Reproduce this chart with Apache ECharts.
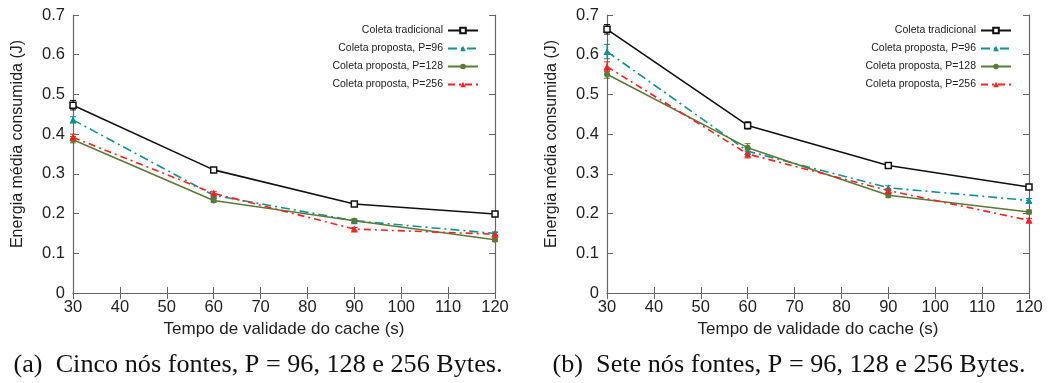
<!DOCTYPE html>
<html><head><meta charset="utf-8">
<script src="https://cdn.jsdelivr.net/npm/echarts@6/dist/echarts.min.js"></script>
<style>html,body{margin:0;padding:0;background:#fff}#c{width:1051px;height:383px}</style>
</head><body><div id="c"></div>
<script>
const cacheTimes = [30, 60, 90, 120];
const xTicks = [30, 40, 50, 60, 70, 80, 90, 100, 110, 120];
const seriesNames = ['Coleta tradicional', 'Coleta proposta, P=96', 'Coleta proposta, P=128', 'Coleta proposta, P=256'];
// (a) five source nodes
const a_trad = [0.473, 0.310, 0.224, 0.199];
const a_p96  = [0.436, 0.246, 0.182, 0.150];
const a_p128 = [0.386, 0.233, 0.182, 0.134];
const a_p256 = [0.392, 0.251, 0.161, 0.148];
const a_err_trad = [0.012, 0.005, 0.004, 0.004];
const a_err_p96  = [0.008, 0.005, 0.004, 0.004];
const a_err_p128 = [0.008, 0.005, 0.004, 0.004];
const a_err_p256 = [0.008, 0.005, 0.004, 0.004];
// (b) seven source nodes
const b_trad = [0.664, 0.422, 0.321, 0.267];
const b_p96  = [0.608, 0.357, 0.265, 0.233];
const b_p128 = [0.551, 0.366, 0.246, 0.204];
const b_p256 = [0.570, 0.350, 0.258, 0.183];
const b_err_trad = [0.012, 0.009, 0.005, 0.005];
const b_err_p96  = [0.018, 0.008, 0.005, 0.005];
const b_err_p128 = [0.010, 0.010, 0.006, 0.005];
const b_err_p256 = [0.012, 0.010, 0.005, 0.005];
const captions = ['(a)  Cinco nós fontes, P = 96, 128 e 256 Bytes.', '(b)  Sete nós fontes, P = 96, 128 e 256 Bytes.'];

const colors = ['#111111', '#129191', '#5b7a38', '#ff1f1f'];
const symbols = ['rect', 'triangle', 'circle', 'triangle'];
const symbolSizes = [6, 7, 6, 7];
const lineTypes = ['solid', [9, 4, 2, 4], 'solid', [7, 4, 2, 4]];
const font = 'Liberation Sans, Arial, sans-serif';

const grids = [
  {left: 73, top: 15, width: 422, height: 278},
  {left: 607, top: 15, width: 422, height: 278}
];
const xAxes = [], yAxes = [];
grids.forEach((g, i) => {
  xAxes.push({type: 'value', gridIndex: i, min: 30, max: 120, interval: 10,
    name: 'Tempo de validade do cache (s)', nameLocation: 'middle', nameGap: 28,
    nameTextStyle: {fontFamily: font, fontSize: 17, color: '#222'},
    axisLine: {lineStyle: {color: '#666', width: 1.2}},
    axisTick: {inside: true, length: 6, lineStyle: {color: '#666'}},
    axisLabel: {fontFamily: font, fontSize: 16.5, color: '#222', margin: 6},
    splitLine: {show: false}});
  xAxes.push({type: 'value', gridIndex: i, position: 'top', min: 30, max: 120, interval: 10,
    axisLine: {lineStyle: {color: '#666', width: 1.2}},
    axisTick: {inside: true, length: 6, lineStyle: {color: '#666'}},
    axisLabel: {show: false}, splitLine: {show: false}});
  yAxes.push({type: 'value', gridIndex: i, min: 0, max: 0.7, interval: 0.1,
    name: 'Energia média consumida (J)', nameLocation: 'middle', nameGap: 47,
    nameTextStyle: {fontFamily: font, fontSize: 16, color: '#222', padding: [0, 0, 0, 20]},
    axisLine: {show: true, lineStyle: {color: '#666', width: 1.2}},
    axisTick: {show: true, inside: true, length: 6, lineStyle: {color: '#666'}},
    axisLabel: {fontFamily: font, fontSize: 16.5, color: '#222', margin: 8},
    splitLine: {show: false}});
  yAxes.push({type: 'value', gridIndex: i, position: 'right', min: 0, max: 0.7, interval: 0.1,
    axisLine: {show: true, lineStyle: {color: '#666', width: 1.2}},
    axisTick: {show: true, inside: true, length: 6, lineStyle: {color: '#666'}},
    axisLabel: {show: false}, splitLine: {show: false}});
});

const panelData = [[a_trad, a_p96, a_p128, a_p256], [b_trad, b_p96, b_p128, b_p256]];
const panelErr = [[a_err_trad, a_err_p96, a_err_p128, a_err_p256], [b_err_trad, b_err_p96, b_err_p128, b_err_p256]];
const series = [];
panelData.forEach((arrs, p) => {
  arrs.forEach((vals, k) => {
    const errs = panelErr[p][k];
    series.push({type: 'custom', xAxisIndex: p * 2, yAxisIndex: p * 2, silent: true, z: 3,
      data: cacheTimes.map((x, j) => [x, vals[j] - errs[j], vals[j] + errs[j]]),
      renderItem: (params, api) => {
        const lo = api.coord([api.value(0), api.value(1)]);
        const hi = api.coord([api.value(0), api.value(2)]);
        const w = 3;
        const st = {stroke: colors[k], lineWidth: 1};
        return {type: 'group', children: [
          {type: 'line', shape: {x1: lo[0], y1: lo[1], x2: hi[0], y2: hi[1]}, style: st},
          {type: 'line', shape: {x1: lo[0] - w, y1: lo[1], x2: lo[0] + w, y2: lo[1]}, style: st},
          {type: 'line', shape: {x1: hi[0] - w, y1: hi[1], x2: hi[0] + w, y2: hi[1]}, style: st}
        ]};
      }});
    series.push({type: 'line', name: seriesNames[k], xAxisIndex: p * 2, yAxisIndex: p * 2,
      data: cacheTimes.map((x, j) => [x, vals[j]]),
      symbol: symbols[k], symbolSize: symbolSizes[k],
      itemStyle: k === 0 ? {color: '#fff', borderColor: colors[k], borderWidth: 1.5} : {color: colors[k]},
      lineStyle: {color: colors[k], width: 1.6, type: lineTypes[k]},
      color: colors[k], z: 4, animation: false});
  });
});

const legendBase = {orient: 'vertical', top: 20, align: 'right', itemWidth: 30, itemHeight: 7, itemGap: 7,
  textStyle: {fontFamily: font, fontSize: 10.5, color: '#222'}, data: seriesNames, selectedMode: false};

const chart = echarts.init(document.getElementById('c'), null, {renderer: 'canvas'});
chart.setOption({
  animation: false,
  grid: grids,
  xAxis: xAxes,
  yAxis: yAxes,
  legend: [Object.assign({}, legendBase, {right: 567}), Object.assign({}, legendBase, {right: 34})],
  series: series,
  graphic: [
    {type: 'text', x: 258, y: 365, style: {text: captions[0], font: '26.2px "Liberation Serif", "Times New Roman", serif', fill: '#111', align: 'center', verticalAlign: 'middle'}},
    {type: 'text', x: 789, y: 365, style: {text: captions[1], font: '26.2px "Liberation Serif", "Times New Roman", serif', fill: '#111', align: 'center', verticalAlign: 'middle'}}
  ]
});
</script></body></html>
